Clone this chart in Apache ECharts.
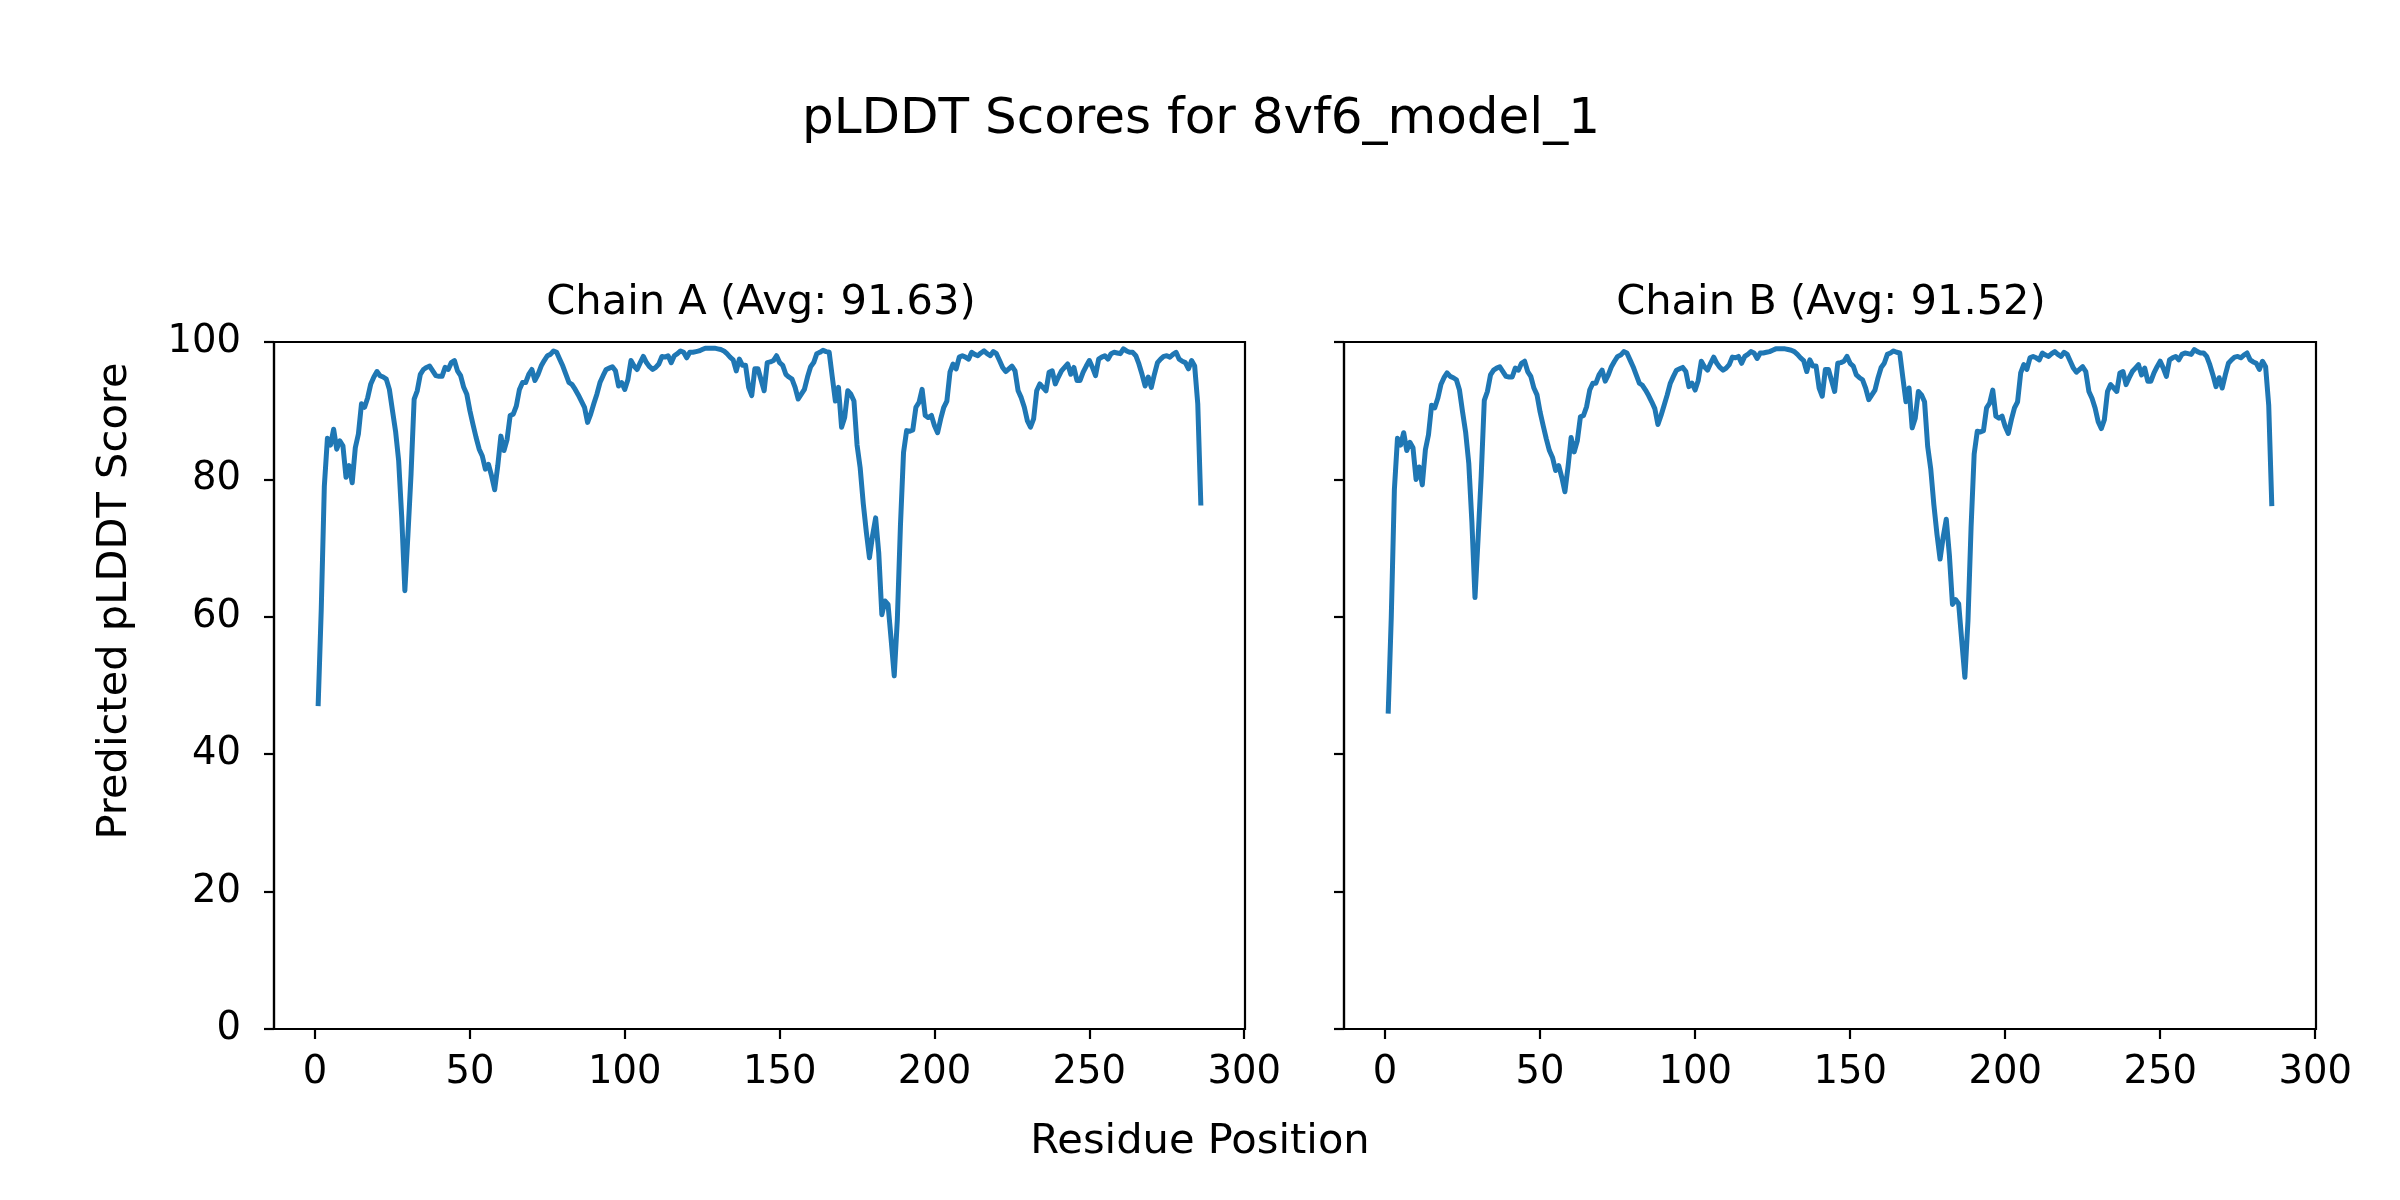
<!DOCTYPE html>
<html>
<head>
<meta charset="utf-8">
<script src="https://cdn.jsdelivr.net/npm/echarts@6/dist/echarts.min.js"></script>
<style>
html,body{margin:0;padding:0;background:#fff;}
#chart{width:2400px;height:1200px;}
</style>
</head>
<body>
<div id="chart"></div>
<script>
// ---- data ----
const figTitle = "pLDDT Scores for 8vf6_model_1";
const chainTitles = ["Chain A (Avg: 91.63)", "Chain B (Avg: 91.52)"];
const xLabel = "Residue Position";
const yLabel = "Predicted pLDDT Score";
const xTicks = [0, 50, 100, 150, 200, 250, 300];
const yTicks = [0, 20, 40, 60, 80, 100];

const chainA = [
47,61,79,86,85,87.3,84.4,85.6,84.9,80.3,
82,79.5,84.6,86.6,91,90.5,91.9,93.9,94.9,95.7,
95.1,94.9,94.6,93.1,90,87,82.7,74.4,63.8,72,
80.8,91.7,92.9,95.3,96,96.3,96.5,95.8,95.1,95,
95,96.3,96,97,97.3,95.8,95.1,93.4,92.4,90,
88,86.1,84.4,83.4,81.5,82.2,80.5,78.5,82,86.3,
84.2,85.8,89.3,89.5,90.7,93.1,94.1,94.1,95.3,96,
94.4,95.3,96.5,97.3,98,98.2,98.7,98.5,97.5,96.5,
95.3,94.1,93.8,93.1,92.3,91.4,90.5,88.3,89.5,91,
92.4,94.1,95.1,96,96.2,96.4,95.8,93.6,94.1,93.1,
94.5,97.3,96.5,96,97,97.9,97,96.4,96,96.3,
96.8,97.9,97.8,98,97,98,98.3,98.7,98.5,97.7,
98.5,98.5,98.6,98.7,98.9,99.1,99.1,99.1,99.1,99,
98.9,98.7,98.3,97.8,97.4,95.8,97.5,96.6,96.6,93.4,
92.2,96.1,96.1,94.5,92.9,97,97.1,97.3,98,97,
96.6,95.3,94.9,94.6,93.4,91.7,92.4,93.1,94.9,96.4,
97,98.3,98.5,98.8,98.6,98.5,94.9,91.4,93.4,87.6,
89,92.9,92.4,91.4,85,81.7,76.5,72.3,68.6,71.8,
74.4,69.3,60.3,62.3,61.8,56.7,51.4,59.6,73.2,83.9,
87.1,87,87.2,90.5,91.2,93.1,89.3,89,89.3,87.8,
86.8,88.8,90.5,91.4,95.6,96.8,96.1,97.8,98,97.8,
97.5,98.5,98.2,98,98.4,98.7,98.3,98,98.6,98.3,
97.3,96.3,95.7,96.1,96.5,95.8,92.9,91.9,90.5,88.5,
87.6,88.8,92.9,93.9,93.4,92.9,95.6,95.8,93.9,94.9,
95.8,96.3,96.8,95.3,96.3,94.4,94.4,95.6,96.5,97.3,
96.3,95.1,97.5,97.8,98,97.5,98.3,98.5,98.4,98.3,
99,98.7,98.5,98.5,98,96.8,95.3,93.6,94.9,93.4,
95.3,97,97.5,97.9,98,97.8,98.2,98.5,97.5,97.2,
97,96.1,97.3,96.5,91,76.2
];

const chainB = [
45.9,60,78.5,86,85,86.8,84.2,85.4,84.6,80,
81.8,79.2,84.3,86.5,90.8,90.4,91.8,93.8,94.8,95.5,
95,94.8,94.5,93,89.8,86.8,82.3,73.8,62.8,71.4,
80.5,91.5,92.8,95.2,95.9,96.2,96.4,95.7,95,94.9,
94.9,96.2,95.9,96.9,97.2,95.7,95,93.3,92.3,89.8,
87.8,85.9,84.2,83.2,81.3,82,80.3,78.2,81.8,86.1,
84,85.6,89.1,89.3,90.6,93,94,94,95.2,95.9,
94.3,95.2,96.4,97.2,97.9,98.1,98.6,98.4,97.4,96.4,
95.2,94,93.7,93,92.2,91.3,90.3,88,89.3,90.8,
92.3,94,95,95.9,96.1,96.3,95.7,93.5,94,93,
94.4,97.2,96.4,95.9,96.9,97.8,96.9,96.3,95.9,96.2,
96.7,97.8,97.7,97.9,96.9,97.9,98.2,98.6,98.4,97.6,
98.4,98.4,98.5,98.6,98.8,99,99,99,99,98.9,
98.8,98.6,98.2,97.7,97.3,95.7,97.4,96.5,96.5,93.3,
92.1,96,96,94.4,92.8,96.9,97,97.2,97.9,96.9,
96.5,95.2,94.8,94.5,93.3,91.6,92.3,93,94.8,96.3,
96.9,98.2,98.4,98.7,98.5,98.4,94.8,91.3,93.3,87.5,
88.9,92.8,92.3,91.3,84.8,81.5,76.3,72,68.4,71.6,
74.2,69,61.8,62.5,61.9,56.5,51.2,59.4,73,83.7,
87,86.9,87.1,90.4,91.1,93,89.2,88.9,89.2,87.7,
86.7,88.7,90.4,91.3,95.5,96.7,96,97.7,97.9,97.7,
97.4,98.4,98.1,97.9,98.3,98.6,98.2,97.9,98.5,98.2,
97.2,96.2,95.6,96,96.4,95.7,92.8,91.8,90.4,88.4,
87.4,88.7,92.8,93.8,93.3,92.8,95.5,95.7,93.8,94.8,
95.7,96.2,96.7,95.2,96.2,94.3,94.3,95.5,96.4,97.2,
96.2,95,97.4,97.7,97.9,97.4,98.2,98.4,98.3,98.2,
98.9,98.6,98.4,98.4,97.9,96.7,95.2,93.5,94.8,93.3,
95.2,96.9,97.4,97.8,97.9,97.7,98.1,98.4,97.4,97.1,
96.9,96,97.2,96.4,90.8,76.1
];

// residue positions (1-based index)
const residuesA = chainA.map((_, i) => i + 1);
const residuesB = chainB.map((_, i) => i + 1);

// ---- chart ----
const chart = echarts.init(document.getElementById('chart'), null, {renderer: 'canvas'});
const FONT = 'DejaVu Sans';
const TICK_FS = 38.5;
const LABEL_FS = 41.6;
const TITLE_FS = 50;
const nData = 286;
const xMin = 1 - 0.05 * (nData - 1);
const xMax = nData + 0.05 * (nData - 1);

const grids = [
  {left: 274, top: 342, width: 971, height: 687},
  {left: 1344, top: 342, width: 972, height: 687}
];

function xAxisCfg(idx) {
  return {
    type: 'value', gridIndex: idx, min: xMin, max: xMax,
    axisLine: {show: true, onZero: false, lineStyle: {color: '#000', width: 2.2}},
    axisTick: {show: true, length: 10, customValues: xTicks, lineStyle: {color: '#000', width: 2.2}},
    axisLabel: {show: true, customValues: xTicks, margin: 24, color: '#000', fontFamily: FONT, fontSize: TICK_FS},
    splitLine: {show: false}
  };
}
function yAxisCfg(idx, showLabels) {
  return {
    type: 'value', gridIndex: idx, min: yTicks[0], max: yTicks[yTicks.length - 1], interval: 20,
    axisLine: {show: true, onZero: false, lineStyle: {color: '#000', width: 2.2}},
    axisTick: {show: true, length: 10, lineStyle: {color: '#000', width: 2.2}},
    axisLabel: {show: showLabels, margin: 33, color: '#000', fontFamily: FONT, fontSize: TICK_FS},
    splitLine: {show: false}
  };
}

const option = {
  animation: false,
  backgroundColor: '#fff',
  grid: grids.map(g => Object.assign({show: true, borderColor: '#000', borderWidth: 2.2, backgroundColor: 'transparent'}, g)),
  xAxis: [xAxisCfg(0), xAxisCfg(1)],
  yAxis: [yAxisCfg(0, true), yAxisCfg(1, false)],
  series: [
    {type: 'line', xAxisIndex: 0, yAxisIndex: 0, showSymbol: false, symbol: 'none',
     lineStyle: {color: '#1f77b4', width: 5, join: 'round', cap: 'butt'},
     data: residuesA.map((r, i) => [r, chainA[i]])},
    {type: 'line', xAxisIndex: 1, yAxisIndex: 1, showSymbol: false, symbol: 'none',
     lineStyle: {color: '#1f77b4', width: 5, join: 'round', cap: 'butt'},
     data: residuesB.map((r, i) => [r, chainB[i]])}
  ],
  graphic: [
    {type: 'text', x: 1201, y: 120, style: {text: figTitle, fill: '#000', font: TITLE_FS + 'px "' + FONT + '"', textAlign: 'center', textVerticalAlign: 'middle'}},
    {type: 'text', x: 761, y: 303, style: {text: chainTitles[0], fill: '#000', font: LABEL_FS + 'px "' + FONT + '"', textAlign: 'center', textVerticalAlign: 'middle'}},
    {type: 'text', x: 1831, y: 303, style: {text: chainTitles[1], fill: '#000', font: LABEL_FS + 'px "' + FONT + '"', textAlign: 'center', textVerticalAlign: 'middle'}},
    {type: 'text', x: 1200, y: 1142, style: {text: xLabel, fill: '#000', font: LABEL_FS + 'px "' + FONT + '"', textAlign: 'center', textVerticalAlign: 'middle'}},
    {type: 'text', x: 115, y: 601, rotation: Math.PI / 2, style: {text: yLabel, fill: '#000', font: LABEL_FS + 'px "' + FONT + '"', textAlign: 'center', textVerticalAlign: 'middle'}}
  ]
};
chart.setOption(option);
</script>
</body>
</html>
